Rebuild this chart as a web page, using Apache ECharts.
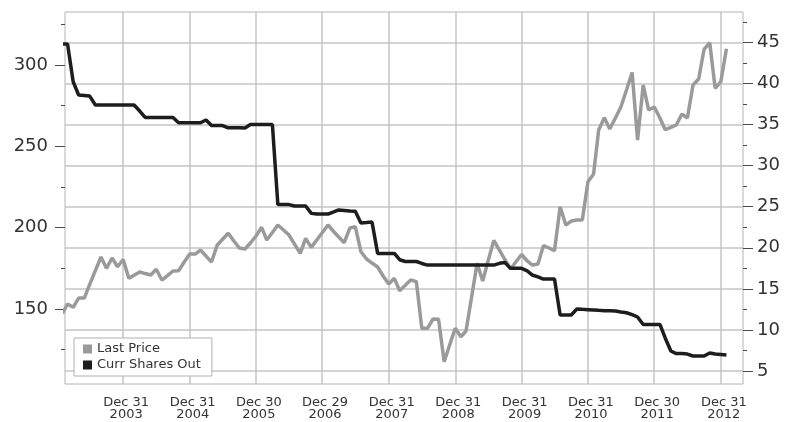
<!DOCTYPE html>
<html>
<head>
<meta charset="utf-8">
<title>Last Price vs Curr Shares Out</title>
<script src="https://cdn.jsdelivr.net/npm/echarts@6/dist/echarts.min.js"></script>
<style>
  html, body { margin: 0; padding: 0; background: #fff; }
  #chart { width: 785px; height: 422px; }
</style>
</head>
<body>
<div id="chart"></div>
<script>
// month-end observations, Jan 2003 .. Jan 2013 (121 months)
const firstYear = 2003;
const monthCount = 121;

// Last Price (right axis)
const lastPrice = [
  12.0, 13.15, 12.75, 13.88, 13.88, 15.55, 17.21, 18.87, 17.5, 18.75, 17.69, 18.57,
  16.28, 16.66, 17.05, 16.86, 16.68, 17.38, 16.07, 16.62, 17.17, 17.21, 18.23, 19.24,
  19.24, 19.72, 18.99, 18.26, 20.3, 21.03, 21.76, 20.82, 19.97, 19.85, 20.58, 21.43,
  22.49, 20.94, 21.85, 22.77, 22.16, 21.55, 20.45, 19.32, 21.15, 20.05, 20.95, 21.85,
  22.77, 22.04, 21.31, 20.61, 22.4, 22.56, 19.52, 18.63, 18.14, 17.66, 16.56, 15.59,
  16.28, 14.77, 15.43, 16.07, 15.87, 10.2, 10.2, 11.33, 11.29, 6.13, 8.16, 10.2,
  9.17, 9.87, 14.01, 18.11, 15.95, 18.43, 20.9, 19.72, 18.57, 17.41, 18.3, 19.18,
  18.39, 17.9, 18.02, 20.25, 19.97, 19.64, 24.99, 22.77, 23.25, 23.38, 23.38, 28.04,
  28.97, 34.33, 35.81, 34.45, 35.79, 37.13, 39.2, 41.33, 33.11, 39.8, 36.76, 37.13,
  35.79, 34.36, 34.64, 34.94, 36.27, 35.79, 39.8, 40.53, 44.15, 44.95, 39.4, 40.21,
  44.21
];

// Curr Shares Out (left axis)
const sharesOut = [
  312.9, 312.9, 289.7, 281.6, 281.3, 280.9, 275.4, 275.4, 275.4, 275.4, 275.4, 275.4,
  275.4, 275.4, 271.7, 267.8, 267.8, 267.8, 267.8, 267.8, 267.8, 264.5, 264.5, 264.5,
  264.5, 264.5, 266.2, 262.8, 262.8, 262.8, 261.4, 261.4, 261.4, 261.3, 263.4, 263.4,
  263.4, 263.4, 263.4, 214.2, 214.2, 214.2, 213.3, 213.3, 213.3, 208.8, 208.4, 208.4,
  208.4, 209.6, 210.9, 210.6, 210.2, 210.1, 202.9, 203.2, 203.5, 184.2, 184.2, 184.2,
  184.2, 180.3, 179.2, 179.2, 179.2, 178.0, 177.0, 177.0, 177.0, 177.0, 177.0, 177.0,
  177.0, 177.0, 177.0, 177.0, 177.0, 177.0, 177.0, 178.1, 178.6, 175.0, 175.0, 175.0,
  173.4, 170.9, 169.7, 168.4, 168.4, 168.4, 146.3, 146.3, 146.3, 150.0, 149.8, 149.6,
  149.4, 149.2, 149.0, 148.9, 148.8, 148.2, 147.7, 146.6, 145.1, 140.5, 140.5, 140.5,
  140.5, 132.2, 124.2, 122.6, 122.6, 122.3, 121.1, 121.1, 121.1, 123.0, 122.3, 122.0,
  121.7
];

// x axis year-end ticks
const tickDates = ['2003-12-31', '2004-12-31', '2005-12-30', '2006-12-29', '2007-12-31',
  '2008-12-31', '2009-12-31', '2010-12-31', '2011-12-30', '2012-12-31'];
const tickLabels = ['Dec 31\n2003', 'Dec 31\n2004', 'Dec 30\n2005', 'Dec 29\n2006', 'Dec 31\n2007',
  'Dec 31\n2008', 'Dec 31\n2009', 'Dec 31\n2010', 'Dec 30\n2011', 'Dec 31\n2012'];

const leftTicks = [150, 200, 250, 300];
const leftMinor = [125, 175, 225, 275, 325];
const rightTicks = [5, 10, 15, 20, 25, 30, 35, 40, 45];
const rightMinor = [7.5, 12.5, 17.5, 22.5, 27.5, 32.5, 37.5, 42.5, 47.5];

function toTime(s) {
  const p = s.split('-').map(Number);
  return new Date(p[0], p[1] - 1, p[2]).getTime();
}

const months = [];
for (let i = 0; i < monthCount; i++) {
  months.push(new Date(firstYear, i + 1, 0).getTime());
}
const tickTimes = tickDates.map(toTime);

const chart = echarts.init(document.getElementById('chart'));

const tickColor = '#4a4a4a';
const labelColor = '#333';
const gridColor = '#c4c4c4';

chart.setOption({
  animation: false,
  textStyle: { fontFamily: 'DejaVu Sans' },
  grid: {
    left: 65, right: 42, top: 12, bottom: 38,
    show: true, borderColor: '#b4b4b4', borderWidth: 1,
    containLabel: false
  },
  legend: {
    orient: 'vertical',
    left: 74, top: 338,
    padding: [4, 11, 4, 9],
    itemGap: 2,
    itemWidth: 9, itemHeight: 9,
    icon: 'rect',
    backgroundColor: '#fff',
    borderColor: '#b0b0b0', borderWidth: 1,
    textStyle: { fontSize: 13, color: labelColor, lineHeight: 14, fontFamily: 'DejaVu Sans' },
    data: ['Last Price', 'Curr Shares Out']
  },
  // dates are plotted as plain timestamps on a value axis
  xAxis: {
    type: 'value',
    min: toTime('2003-02-14'),
    max: toTime('2013-05-02'),
    axisLine: { show: false },
    axisTick: { show: false, customValues: tickTimes },
    splitLine: { show: true, lineStyle: { color: gridColor, width: 1.5 } },
    axisLabel: {
      customValues: tickTimes,
      margin: 12,
      fontSize: 13,
      lineHeight: 12.5,
      color: labelColor,
      padding: [0, 0, 0, 6],
      formatter: function (v) {
        const k = tickTimes.indexOf(v);
        return k >= 0 ? tickLabels[k] : '';
      }
    }
  },
  yAxis: [
    {
      type: 'value', position: 'left', min: 103.9, max: 332.6,
      axisLine: { show: false },
      axisTick: { show: true, length: 10, customValues: leftTicks, lineStyle: { color: tickColor } },
      axisLabel: { customValues: leftTicks, margin: 17, fontSize: 18, color: labelColor },
      splitLine: { show: false }
    },
    {
      type: 'value', position: 'right', min: 3.42, max: 48.69,
      axisLine: { show: false },
      axisTick: { show: true, length: 10, customValues: rightTicks, lineStyle: { color: tickColor } },
      axisLabel: { customValues: rightTicks, margin: 14, fontSize: 18, color: labelColor },
      splitLine: { show: true, lineStyle: { color: gridColor, width: 1.5 } }
    },
    {
      type: 'value', position: 'left', min: 103.9, max: 332.6,
      axisLine: { show: false },
      axisTick: { show: true, length: 4, customValues: leftMinor, lineStyle: { color: tickColor } },
      axisLabel: { show: false },
      splitLine: { show: false }
    },
    {
      type: 'value', position: 'right', min: 3.42, max: 48.69,
      axisLine: { show: false },
      axisTick: { show: true, length: 4, customValues: rightMinor, lineStyle: { color: tickColor } },
      axisLabel: { show: false },
      splitLine: { show: false }
    }
  ],
  series: [
    {
      name: 'Last Price',
      type: 'line',
      yAxisIndex: 1,
      symbol: 'none',
      data: months.map((t, i) => [t, lastPrice[i]]),
      lineStyle: { color: '#9a9a9a', width: 3.5 },
      itemStyle: { color: '#9a9a9a' }
    },
    {
      name: 'Curr Shares Out',
      type: 'line',
      yAxisIndex: 0,
      symbol: 'none',
      data: months.map((t, i) => [t, sharesOut[i]]),
      lineStyle: { color: '#1f1c1d', width: 3.5 },
      itemStyle: { color: '#1f1c1d' }
    }
  ]
});
</script>
</body>
</html>
